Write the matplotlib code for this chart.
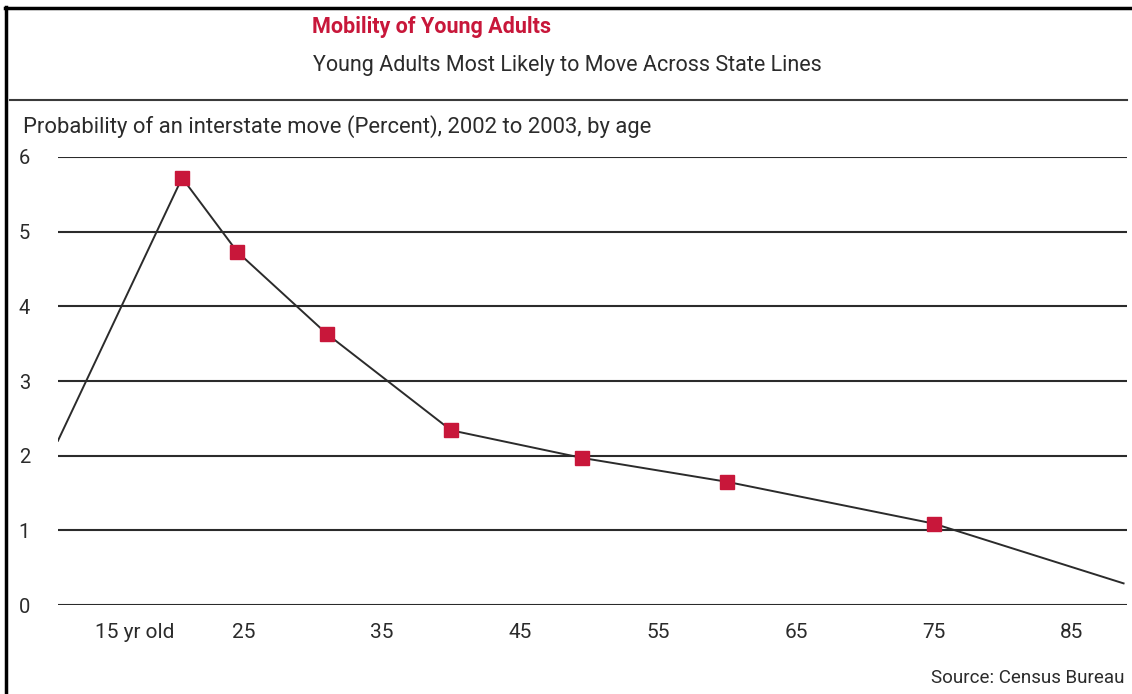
import matplotlib.pyplot as plt
from matplotlib.lines import Line2D
from matplotlib.transforms import ScaledTranslation

plt.rcParams['font.family'] = ['Roboto', 'DejaVu Sans']

# interstate move probability by age (percent)
ages = [11.5, 20.5, 24.5, 31, 40, 49.5, 60, 75, 88.75]
rates = [2.2, 5.72, 4.73, 3.63, 2.34, 1.97, 1.65, 1.09, 0.29]
marked = [1, 2, 3, 4, 5, 6, 7]

xticks = [15, 25, 35, 45, 55, 65, 75, 85]
xlabels = ["15 yr old", "25", "35", "45", "55", "65", "75", "85"]
yticks = [0, 1, 2, 3, 4, 5, 6]

red = "#c8173a"
ink = "#2b2b2b"

fig = plt.figure(figsize=(11.32, 6.94), dpi=100)
ax = fig.add_axes([0.0512, 0.1282, 0.9444, 0.6456])

for y in yticks:
    ax.axhline(y, color=ink, lw=1.5, zorder=1)

ax.plot(ages, rates, color=ink, lw=1.4, zorder=2,
        marker="s", markevery=marked, markersize=10.5,
        markerfacecolor=red, markeredgecolor=red)

ax.set_xlim(11.5, 89.0)
ax.set_ylim(0, 6)
for s in ax.spines.values():
    s.set_visible(False)

ax.set_yticks(yticks)
ax.set_yticklabels([str(v) for v in yticks], fontsize=14.5, color=ink)
ax.tick_params(axis="y", length=0, pad=20)
ax.set_xticks(xticks)
ax.set_xticklabels(xlabels, fontsize=15, color=ink)
ax.tick_params(axis="x", length=0, pad=13)
first = ax.get_xticklabels()[0]
first.set_horizontalalignment("left")
first.set_transform(first.get_transform() +
                    ScaledTranslation(-11 / 100, 0, fig.dpi_scale_trans))

fig.text(0.3815, 0.961, "Mobility of Young Adults", fontsize=15.5, color=red,
         fontweight="bold", ha="center", va="center")
fig.text(0.5013, 0.906, "Young Adults Most Likely to Move Across State Lines",
         fontsize=15.5, color=ink, ha="center", va="center")
fig.text(0.020, 0.817,
         "Probability of an interstate move (Percent), 2002 to 2003, by age",
         fontsize=15.8, color=ink, ha="left", va="center")
fig.text(0.9935, 0.023, "Source: Census Bureau", fontsize=13.5, color=ink,
         ha="right", va="center")

# frame and header rule
fig.add_artist(Line2D([0.004, 1.0], [0.988, 0.988], color="black", lw=2.5))
fig.add_artist(Line2D([0.0055, 0.0055], [0.0, 0.99], color="black", lw=2.5))
fig.add_artist(Line2D([0.009, 0.996], [0.856, 0.856], color="#3a3a3a", lw=1.5))

fig.savefig("out.png", dpi=100)
